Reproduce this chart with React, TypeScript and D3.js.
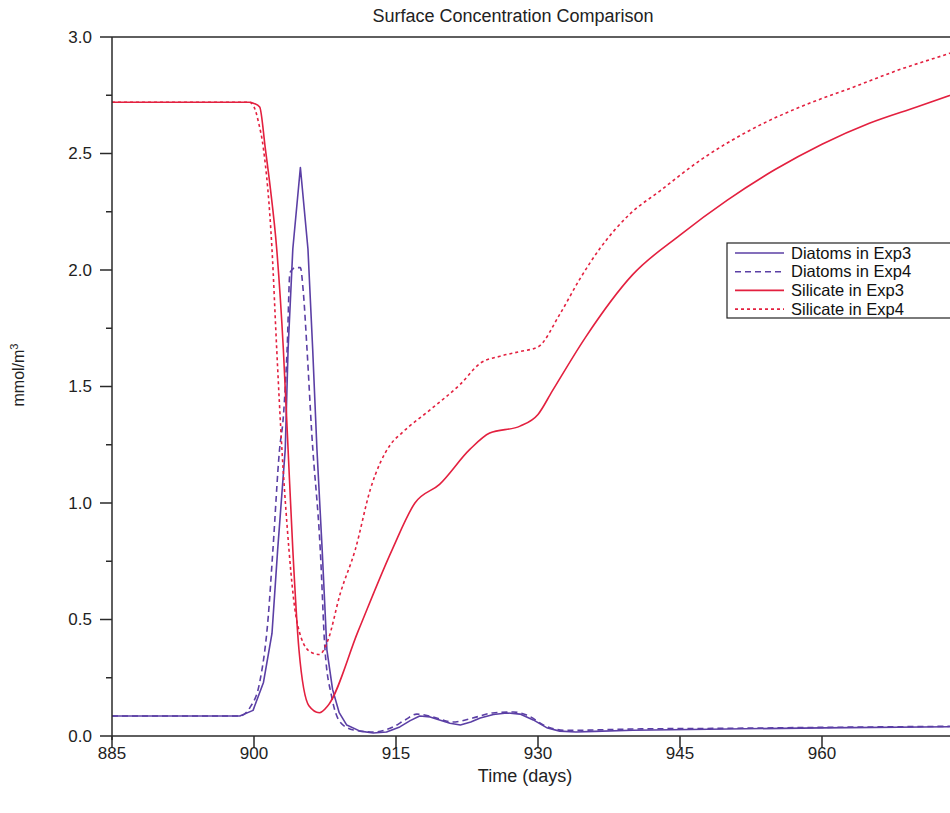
import React from "react";
import * as d3 from "d3";

// ---------- data ----------
const chartTitle = "Surface Concentration Comparison";
const xLabel = "Time (days)";
const xTicks = [885, 900, 915, 930, 945, 960];
const yTicks = [0, 0.5, 1.0, 1.5, 2.0, 2.5, 3.0];
const yMinorTicks = [0.25, 0.75, 1.25, 1.75, 2.25, 2.75];

const diatomsExp3Days = [885, 898.5, 899.9, 901.0, 901.9, 902.5, 903.3, 903.6, 904.1, 904.9, 905.7, 906.2, 906.65, 907.2, 907.7, 908.3, 909.0, 909.8, 911.2, 912.6, 914.0, 915.4, 916.5, 917.5, 918.6, 919.6, 920.7, 921.8, 922.9, 923.9, 925.3, 926.7, 928.1, 929.5, 931.0, 932.3, 934, 936, 940, 950, 960, 975];
const diatomsExp3Vals = [0.086, 0.086, 0.11, 0.23, 0.44, 0.8, 1.23, 1.66, 2.09, 2.44, 2.09, 1.66, 1.23, 0.8, 0.37, 0.2, 0.1, 0.047, 0.021, 0.013, 0.017, 0.039, 0.066, 0.086, 0.082, 0.069, 0.055, 0.047, 0.06, 0.077, 0.092, 0.099, 0.094, 0.069, 0.034, 0.021, 0.017, 0.02, 0.025, 0.03, 0.035, 0.04];

const diatomsExp4Days = [885, 898.5, 899.6, 900.6, 901.5, 902.0, 902.7, 903.1, 903.5, 903.8, 904.4, 904.9, 905.2, 905.6, 906.1, 907.0, 907.5, 908.2, 909.1, 910.5, 912.6, 914.7, 916.0, 917.2, 918.9, 921.0, 923.1, 925.2, 927.4, 928.8, 931.0, 933, 935, 940, 950, 960, 975];
const diatomsExp4Vals = [0.086, 0.086, 0.124, 0.23, 0.51, 0.8, 1.23, 1.37, 1.66, 1.99, 2.01, 2.01, 1.91, 1.66, 1.3, 0.8, 0.37, 0.17, 0.06, 0.026, 0.017, 0.039, 0.07, 0.094, 0.082, 0.06, 0.077, 0.099, 0.103, 0.09, 0.039, 0.024, 0.025, 0.03, 0.033, 0.037, 0.042];

const silicateExp3Days = [885, 899.5, 900.0, 900.6, 901.2, 901.7, 902.4, 903.1, 903.6, 904.1, 904.75, 905.8, 906.9, 907.8, 911.0, 914.6, 917.0, 919.6, 922.8, 924.9, 928.1, 930.0, 931.5, 935, 940, 945, 950, 955, 960, 965, 970, 975];
const silicateExp3Vals = [2.72, 2.72, 2.715, 2.7, 2.52, 2.36, 2.09, 1.66, 1.23, 0.8, 0.37, 0.13, 0.1, 0.13, 0.45, 0.8, 1.0, 1.08, 1.23, 1.3, 1.33, 1.38, 1.48, 1.71, 1.98, 2.15, 2.3, 2.43, 2.54, 2.63, 2.7, 2.77];

const silicateExp4Days = [885, 899.5, 900.0, 900.5, 901.0, 901.9, 902.4, 902.95, 903.5, 904.3, 905.0, 906.0, 906.9, 907.8, 909.1, 910.7, 912.3, 914.4, 915.6, 918.6, 921.8, 923.9, 926.0, 928.1, 930.0, 932.3, 934.4, 936.5, 939.7, 942.9, 947.1, 952.4, 957.7, 963.0, 968.2, 973.5, 975];
const silicateExp4Vals = [2.72, 2.72, 2.7, 2.63, 2.52, 2.09, 1.66, 1.23, 0.9, 0.55, 0.42, 0.36, 0.35, 0.41, 0.61, 0.8, 1.06, 1.25, 1.3, 1.4, 1.51, 1.6, 1.63, 1.65, 1.67, 1.81, 1.96, 2.09, 2.24, 2.34, 2.47, 2.6, 2.7, 2.78, 2.86, 2.93, 2.95];

const seriesNames = ["Diatoms in Exp3", "Diatoms in Exp4", "Silicate in Exp3", "Silicate in Exp4"];

// ---------- styles ----------
const PURPLE = "#5b3fa5";
const RED = "#e3203f";
const FONT = "'Liberation Sans', Arial, Helvetica, sans-serif";

type Series = { name: string; days: number[]; vals: number[]; color: string; dash: string; linear: boolean };

const series: Series[] = [
  { name: seriesNames[0], days: diatomsExp3Days, vals: diatomsExp3Vals, color: PURPLE, dash: "none", linear: true },
  { name: seriesNames[1], days: diatomsExp4Days, vals: diatomsExp4Vals, color: PURPLE, dash: "6,4", linear: false },
  { name: seriesNames[2], days: silicateExp3Days, vals: silicateExp3Vals, color: RED, dash: "none", linear: false },
  { name: seriesNames[3], days: silicateExp4Days, vals: silicateExp4Vals, color: RED, dash: "3,3", linear: false },
];

export default function App() {
  const W = 950;
  const H = 813;
  const left = 112;
  const right = 964;
  const top = 37;
  const bottom = 736;

  const x = d3.scaleLinear().domain([885, 975]).range([left, right]);
  const y = d3.scaleLinear().domain([0, 3]).range([bottom, top]);

  const makePath = (s: Series) => {
    const pts: [number, number][] = s.days.map((d, i) => [d, s.vals[i]]);
    const gen = d3
      .line<[number, number]>()
      .x((p) => x(p[0]))
      .y((p) => y(p[1]))
      .curve(s.linear ? d3.curveLinear : d3.curveMonotoneX);
    return gen(pts) || "";
  };

  const axisColor = "#2a2a2a";

  return (
    <svg
      width={W}
      height={H}
      style={{ position: "absolute", left: 0, top: 0, background: "#fff" }}
      fontFamily={FONT}
    >
      <defs>
        <clipPath id="plotClip">
          <rect x={left} y={top} width={right - left} height={bottom - top} />
        </clipPath>
      </defs>

      <text x={513} y={22} textAnchor="middle" fontSize={18} fill="#222">
        {chartTitle}
      </text>

      {/* series */}
      <g clipPath="url(#plotClip)">
        {series.map((s) => (
          <path
            key={s.name}
            d={makePath(s)}
            fill="none"
            stroke={s.color}
            strokeWidth={1.6}
            strokeDasharray={s.dash}
            strokeLinejoin="round"
          />
        ))}
      </g>

      {/* frame */}
      <line x1={left} x2={right} y1={top} y2={top} stroke={axisColor} strokeWidth={1.5} />
      <line x1={left} x2={right} y1={bottom} y2={bottom} stroke={axisColor} strokeWidth={1.5} />
      <line x1={left} x2={left} y1={top} y2={bottom + 4} stroke={axisColor} strokeWidth={1.5} />
      <line x1={right} x2={right} y1={top} y2={bottom} stroke={axisColor} strokeWidth={1.5} />

      {/* y ticks */}
      {yTicks.map((t) => (
        <g key={"y" + t}>
          <line x1={left - 12} x2={left} y1={y(t)} y2={y(t)} stroke={axisColor} strokeWidth={1.5} />
          <text x={left - 20} y={y(t)} dy="0.35em" textAnchor="end" fontSize={17} fill="#222">
            {t.toFixed(1)}
          </text>
        </g>
      ))}
      {yMinorTicks.map((t) => (
        <line key={"ym" + t} x1={left - 6} x2={left} y1={y(t)} y2={y(t)} stroke={axisColor} strokeWidth={1.5} />
      ))}

      {/* x ticks */}
      {xTicks.map((t) => (
        <g key={"x" + t}>
          <line x1={x(t)} x2={x(t)} y1={bottom} y2={bottom + 12} stroke={axisColor} strokeWidth={1.5} />
          <text x={x(t)} y={bottom + 23} textAnchor="middle" fontSize={17} fill="#222">
            {t}
          </text>
        </g>
      ))}

      <text x={525} y={782} textAnchor="middle" fontSize={18} fill="#222">
        {xLabel}
      </text>
      <text
        transform={`translate(24, 375) rotate(-90)`}
        textAnchor="middle"
        fontSize={16}
        fill="#222"
      >
        mmol/m<tspan fontSize={11} dy={-6}>3</tspan>
      </text>

      {/* legend */}
      <g>
        <rect x={727} y={243} width={250} height={75} fill="#fff" stroke="#222" strokeWidth={1.2} />
        {series.map((s, i) => {
          const cy = 253 + i * 18.7;
          return (
            <g key={"lg" + s.name}>
              <line
                x1={735}
                x2={784}
                y1={cy}
                y2={cy}
                stroke={s.color}
                strokeWidth={1.6}
                strokeDasharray={s.dash}
              />
              <text x={791} y={cy} dy="0.35em" fontSize={16.5} fill="#111">
                {s.name}
              </text>
            </g>
          );
        })}
      </g>
    </svg>
  );
}
